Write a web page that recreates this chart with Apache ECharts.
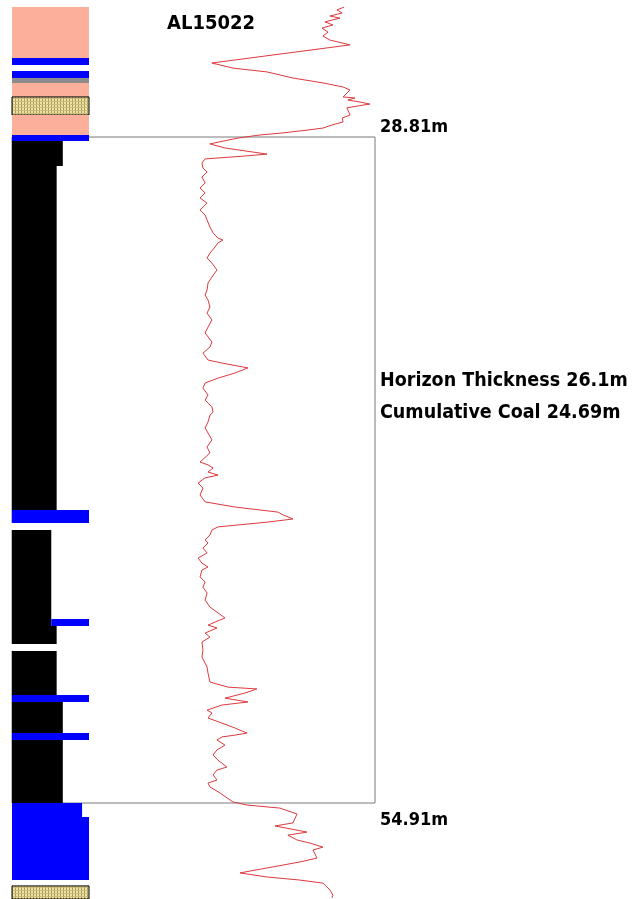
<!DOCTYPE html>
<html>
<head>
<meta charset="utf-8">
<script src="https://cdn.jsdelivr.net/npm/echarts@6/dist/echarts.min.js"></script>
<style>
html,body{margin:0;padding:0;background:#fff;}
#chart{width:635px;height:899px;}
</style>
</head>
<body>
<div id="chart"></div>
<script>
// ---- data ----
const holeName = 'AL15022';
const horizonTop = 28.81;
const horizonBase = 54.91;
const cumulativeCoal = 24.69;
const depthMin = 23.441;
const depthMax = 58.672;

// lithology intervals (depth in m, column extent in % of column width); NR = no recovery (blank)
const litType  = ['SH','BL','NR','BL','GR','SH','SS','SH','BL','CO','CO','BL','NR','CO','BL','CO','NR','CO','BL','CO','BL','CO','BL','BL','NR','SS'];
const litTop   = [23.72,25.71,25.99,26.22,26.50,26.69,27.24,27.95,28.73,28.97,29.95,43.43,43.94,44.21,47.70,47.97,48.68,48.95,50.68,50.95,52.17,52.44,54.91,55.46,57.93,58.16];
const litBase  = [25.71,25.99,26.22,26.50,26.69,27.24,27.95,28.73,28.97,29.95,43.43,43.94,44.21,47.97,47.97,48.68,48.95,50.68,50.95,52.17,52.44,54.91,55.46,57.93,58.16,58.90];
const litFrom  = [0,0,0,0,0,0,0,0,0,0,0,0,0,0,51,0,0,0,0,0,0,0,0,0,0,0];
const litTo    = [100,100,100,100,100,100,100,100,100,66,58,100,100,51,100,58,100,58,100,66,100,66,91,100,100,100];

// gamma log
const gammaDepth = [23.72,23.83,23.95,24.07,24.15,24.30,24.42,24.54,24.70,24.85,25.01,25.20,25.91,26.11,26.26,26.50,26.69,26.85,26.97,27.24,27.28,27.36,27.44,27.52,27.56,27.67,27.95,28.07,28.22,28.34,28.46,28.54,28.65,28.73,28.85,29.08,29.24,29.48,29.56,29.67,29.83,30.03,30.18,30.38,30.61,30.81,31.00,31.20,31.40,31.67,31.87,32.06,32.34,32.57,32.77,32.85,32.96,33.12,33.36,33.55,33.75,34.02,34.30,34.53,34.81,35.00,35.20,35.47,35.71,35.98,36.26,36.49,36.84,37.04,37.28,37.55,37.67,37.86,38.06,38.26,38.45,38.65,38.92,39.12,39.39,39.59,39.71,39.98,40.21,40.41,40.68,40.96,41.19,41.55,41.66,41.78,41.94,42.06,42.17,42.37,42.57,42.84,43.11,43.31,43.51,43.62,43.78,43.90,44.09,44.21,44.41,44.60,44.72,44.92,45.11,45.31,45.51,45.66,45.78,46.05,46.25,46.45,46.68,46.96,47.23,47.43,47.66,47.82,47.94,48.05,48.25,48.41,48.60,48.91,49.19,49.58,49.82,50.17,50.37,50.44,50.60,50.80,50.95,51.07,51.27,51.38,51.58,51.78,51.97,52.17,52.25,52.32,52.44,52.64,52.83,53.03,53.23,53.50,53.62,53.81,54.01,54.13,54.28,54.52,54.87,54.99,55.11,55.34,55.69,55.81,56.05,56.17,56.36,56.48,56.64,56.75,57.07,57.22,57.65,57.81,57.93,58.05,58.32,58.52,58.63];
const gammaValue = [137.2,134.3,136.4,131.4,135.5,129.3,132.6,128.1,130.6,128.5,131.4,139.7,82.6,91.3,105.4,116.1,128.5,136.8,139.7,136.8,141.7,138.8,143.8,147.9,145.0,138.4,139.7,136.4,136.8,132.2,128.5,121.9,112.0,102.5,93.4,81.8,88.0,105.4,95.5,79.8,78.5,78.9,80.6,78.5,79.8,77.7,79.8,77.7,80.6,77.7,79.8,80.6,81.8,83.1,85.1,87.2,85.1,83.9,81.8,80.6,82.6,84.7,82.6,81.0,80.6,79.8,81.0,81.8,80.6,82.6,81.0,79.8,82.6,81.8,78.9,81.0,86.8,97.5,92.1,85.1,79.8,78.9,81.0,79.8,82.6,83.1,81.8,81.0,79.8,81.0,82.6,80.6,81.8,77.7,81.0,83.1,81.0,85.1,79.8,76.9,78.9,77.7,79.8,92.1,109.9,112.0,116.1,105.8,85.1,82.6,81.8,79.8,81.0,78.9,80.6,76.9,78.5,81.0,78.5,77.7,79.8,78.9,80.6,79.8,81.8,84.7,88.0,83.9,81.0,84.7,79.8,81.8,78.5,78.9,78.5,80.6,81.0,81.8,89.3,101.2,96.3,88.0,97.5,86.8,80.6,82.6,81.0,86.8,92.1,97.1,92.1,86.8,84.7,88.0,84.7,83.1,85.1,88.8,84.7,83.1,84.7,81.0,81.8,86.0,91.3,97.1,110.7,117.8,116.1,108.7,121.9,114.0,117.8,123.1,128.5,124.4,126.0,119.0,94.2,105.4,119.0,128.5,131.4,132.6,132.2];

// ---- styles ----
function makePattern(){
  const c = document.createElement('canvas');
  c.width = 3; c.height = 3;
  const g = c.getContext('2d');
  g.fillStyle = '#efe2a2'; g.fillRect(0,0,3,3);
  g.fillStyle = '#a89a5c'; g.fillRect(0,0,1,3);
  g.fillStyle = '#c9bb7a'; g.fillRect(0,2,3,1);
  return c;
}
const sandPattern = {image: makePattern(), repeat: 'repeat'};
const litFill = {SH:'#fcb09c', BL:'#0000ff', GR:'#8c8c8c', CO:'#000000', SS: sandPattern, NR:'#ffffff'};

const litData = litType.map((t,i)=>[litFrom[i], litTo[i], litTop[i], litBase[i]]);
const gammaData = gammaDepth.map((d,i)=>[gammaValue[i], d]);

const chart = echarts.init(document.getElementById('chart'), null, {renderer:'canvas'});
const fontFam = '"DejaVu Sans Condensed","DejaVu Sans",Verdana,sans-serif';
const txt = (x,y,s,size)=>({type:'text', left:x, top:y, z:10, style:{text:s, fill:'#000', font:'bold ' + size + 'px ' + fontFam}});

chart.setOption({
  animation:false,
  backgroundColor:'#fff',
  grid:[
    {left:12, width:77, top:0, bottom:0},
    {left:12, right:260, top:0, bottom:0}
  ],
  xAxis:[
    {type:'value', gridIndex:0, min:0, max:100, show:false},
    {type:'value', gridIndex:1, min:0, max:150, show:false}
  ],
  yAxis:[
    {type:'value', gridIndex:0, min:depthMin, max:depthMax, inverse:true, show:false},
    {type:'value', gridIndex:1, min:depthMin, max:depthMax, inverse:true, show:false}
  ],
  series:[
    {
      type:'line', xAxisIndex:1, yAxisIndex:1, data:gammaData, showSymbol:false, symbol:'none',
      lineStyle:{color:'#dc3a3e', width:1}, silent:true, z:2,
      markArea:{silent:true, itemStyle:{color:'rgba(0,0,0,0)', borderColor:'#7a7a7a', borderWidth:1},
        data:[[{yAxis:horizonTop},{yAxis:horizonBase}]]}
    },
    {
      type:'custom', xAxisIndex:0, yAxisIndex:0, data:litData, z:5, silent:true,
      encode:{x:[0,1], y:[2,3]},
      renderItem:function(params, api){
        const p0 = api.coord([api.value(0), api.value(2)]);
        const p1 = api.coord([api.value(1), api.value(3)]);
        const cs = params.coordSys;
        const r = echarts.graphic.clipRectByRect(
          {x:p0[0]-(litType[params.dataIndex]==='NR'?2:0), y:p0[1], width:p1[0]-p0[0]+(litType[params.dataIndex]==='NR'?2:0), height:p1[1]-p0[1]},
          {x:cs.x-2, y:cs.y, width:cs.width+2, height:cs.height});
        if(!r) return;
        const t = litType[params.dataIndex];
        return {type:'rect', shape:r, style:{fill:litFill[t], stroke: t==='SS' ? '#000' : null, lineWidth: t==='SS'?1:0}};
      }
    }
  ],
  graphic:[
    txt(167, 14, holeName, 20),
    txt(380, 118, horizonTop.toFixed(2) + 'm', 18),
    txt(380, 811, horizonBase.toFixed(2) + 'm', 18),
    txt(380, 371, 'Horizon Thickness ' + (Math.round((horizonBase - horizonTop)*100)/100) + 'm', 19.5),
    txt(380, 403, 'Cumulative Coal ' + cumulativeCoal.toFixed(2) + 'm', 19.5)
  ]
});
</script>
</body>
</html>
